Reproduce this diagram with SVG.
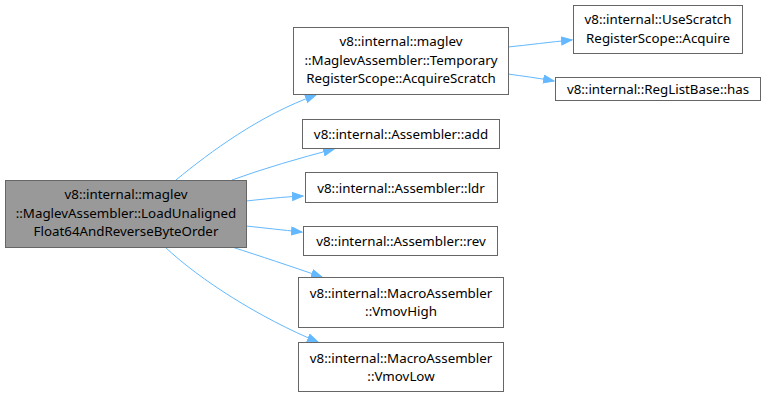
<svg xmlns="http://www.w3.org/2000/svg" width="766" height="406" viewBox="0 0 766 406">
<defs>
<style>
.n rect{fill:#ffffff;stroke:#666666;stroke-width:1}
.m rect{fill:#999999;stroke:#666666;stroke-width:1}
text{font-family:"Noto Sans","DejaVu Sans",sans-serif;font-size:13.33px;fill:#000000;text-anchor:middle}
.e path{fill:none;stroke:#63b8ff;stroke-width:1;marker-end:url(#a)}
</style>
<marker id="a" markerWidth="13" markerHeight="10" refX="11" refY="4.5" orient="auto" markerUnits="userSpaceOnUse">
<path d="M0.5,0.5 L11,4.5 L0.5,8.5 Z" fill="#63b8ff" stroke="#63b8ff"/>
</marker>
</defs>
<rect width="766" height="406" fill="#ffffff"/>
<g id="edges" class="e">
<path d="M176,180 C210,152 260,115 316,95"/>
<path d="M232,180 C265,168 300,158 334,149"/>
<path d="M246,201 C265,199 282,197 303,196"/>
<path d="M246,226 C265,228 282,230 302,232"/>
<path d="M232,247 C260,256 290,266 322,277"/>
<path d="M165,247 C200,280 260,318 318,342"/>
<path d="M508,47 C528,45 550,42 572,40"/>
<path d="M508,74 C522,76 538,78 554,81"/>
</g>
<g id="main" class="m">
<rect x="5.5" y="180.5" width="241" height="67"/>
<text x="126" y="199">v8::internal::maglev</text>
<text x="126" y="217.5">::MaglevAssembler::LoadUnaligned</text>
<text x="126" y="236">Float64AndReverseByteOrder</text>
</g>
<g id="acquirescratch" class="n">
<rect x="293.5" y="27.5" width="215" height="67"/>
<text x="401" y="46">v8::internal::maglev</text>
<text x="401" y="64.5">::MaglevAssembler::Temporary</text>
<text x="401" y="83">RegisterScope::AcquireScratch</text>
</g>
<g id="usescratch" class="n">
<rect x="573.5" y="5.5" width="169" height="48"/>
<text x="658" y="24">v8::internal::UseScratch</text>
<text x="658" y="42.5">RegisterScope::Acquire</text>
</g>
<g id="reglistbase" class="n">
<rect x="555.5" y="77.5" width="205" height="23"/>
<text x="658" y="94">v8::internal::RegListBase::has</text>
</g>
<g id="add" class="n">
<rect x="302.5" y="119.5" width="197" height="29"/>
<text x="401" y="139">v8::internal::Assembler::add</text>
</g>
<g id="ldr" class="n">
<rect x="305.5" y="172.5" width="192" height="30"/>
<text x="401" y="192.5">v8::internal::Assembler::ldr</text>
</g>
<g id="rev" class="n">
<rect x="303.5" y="226.5" width="194" height="29"/>
<text x="401" y="246">v8::internal::Assembler::rev</text>
</g>
<g id="vmovhigh" class="n">
<rect x="298.5" y="277.5" width="205" height="50"/>
<text x="401" y="297.5">v8::internal::MacroAssembler</text>
<text x="401" y="316">::VmovHigh</text>
</g>
<g id="vmovlow" class="n">
<rect x="298.5" y="342.5" width="205" height="49"/>
<text x="401" y="362.5">v8::internal::MacroAssembler</text>
<text x="401" y="381">::VmovLow</text>
</g>
</svg>
